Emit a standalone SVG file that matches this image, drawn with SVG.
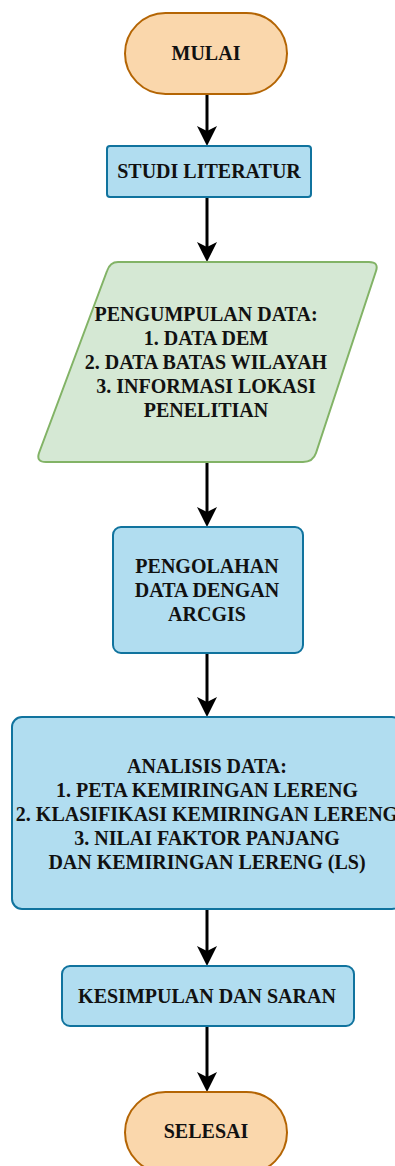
<svg xmlns="http://www.w3.org/2000/svg" width="395" height="1166" viewBox="0 0 395 1166">
<style>
.t{font-family:"Liberation Serif","Times New Roman",serif;font-weight:bold;font-size:20px;fill:#111;text-anchor:middle}
.term{fill:#fad7ac;stroke:#b46504;stroke-width:2}
.proc{fill:#b1ddf0;stroke:#10739e;stroke-width:2}
.io{fill:#d5e8d4;stroke:#82b366;stroke-width:2}
.edge{stroke:#000;stroke-width:3;fill:none;marker-end:url(#arr)}
</style>
<defs>
<marker id="arr" viewBox="0 0 20 20" refX="10" refY="10" markerWidth="20" markerHeight="20" markerUnits="userSpaceOnUse" orient="auto">
<path d="M0,0 L20,10 L0,20 L5,10 Z" fill="#000"/>
</marker>
</defs>
<rect width="395" height="1166" fill="#fff"/>
<g id="connectors">
<line class="edge" x1="207" y1="94" x2="207" y2="136"/>
<line class="edge" x1="207" y1="197" x2="207" y2="252"/>
<line class="edge" x1="207" y1="462" x2="207" y2="517"/>
<line class="edge" x1="207" y1="653" x2="207" y2="707"/>
<line class="edge" x1="207" y1="909" x2="207" y2="956"/>
<line class="edge" x1="207" y1="1026" x2="207" y2="1082"/>
</g>
<g id="mulai">
<rect class="term" x="125" y="13" width="162" height="81" rx="40.5"/>
<text class="t" x="206" y="60">MULAI</text>
</g>
<g id="studi">
<rect class="proc" x="107" y="146" width="204" height="51" rx="3"/>
<text class="t" x="209" y="178">STUDI LITERATUR</text>
</g>
<g id="pengumpulan">
<path class="io" d="M118,262 L369,262 Q379,262 376,271 L316,453 Q313,462 303,462 L46,462 Q36,462 39,453 L107,271 Q110,262 118,262 Z"/>
<text class="t" x="206" y="321">PENGUMPULAN DATA:</text>
<text class="t" x="206" y="345">1. DATA DEM</text>
<text class="t" x="206" y="369">2. DATA BATAS WILAYAH</text>
<text class="t" x="206" y="393">3. INFORMASI LOKASI</text>
<text class="t" x="206" y="417">PENELITIAN</text>
</g>
<g id="pengolahan">
<rect class="proc" x="113" y="527" width="190" height="126" rx="8"/>
<text class="t" x="207" y="573">PENGOLAHAN</text>
<text class="t" x="207" y="597">DATA DENGAN</text>
<text class="t" x="207" y="621">ARCGIS</text>
</g>
<g id="analisis">
<rect class="proc" x="12" y="717" width="390" height="192" rx="10"/>
<text class="t" x="207" y="773">ANALISIS DATA:</text>
<text class="t" x="207" y="797">1. PETA KEMIRINGAN LERENG</text>
<text class="t" x="207" y="821">2. KLASIFIKASI KEMIRINGAN LERENG</text>
<text class="t" x="207" y="845">3. NILAI FAKTOR PANJANG</text>
<text class="t" x="207" y="869">DAN KEMIRINGAN LERENG (LS)</text>
</g>
<g id="kesimpulan">
<rect class="proc" x="62" y="966" width="292" height="60" rx="8"/>
<text class="t" x="207" y="1003">KESIMPULAN DAN SARAN</text>
</g>
<g id="selesai">
<rect class="term" x="125" y="1092" width="162" height="81" rx="40.5"/>
<text class="t" x="206" y="1138">SELESAI</text>
</g>
</svg>
